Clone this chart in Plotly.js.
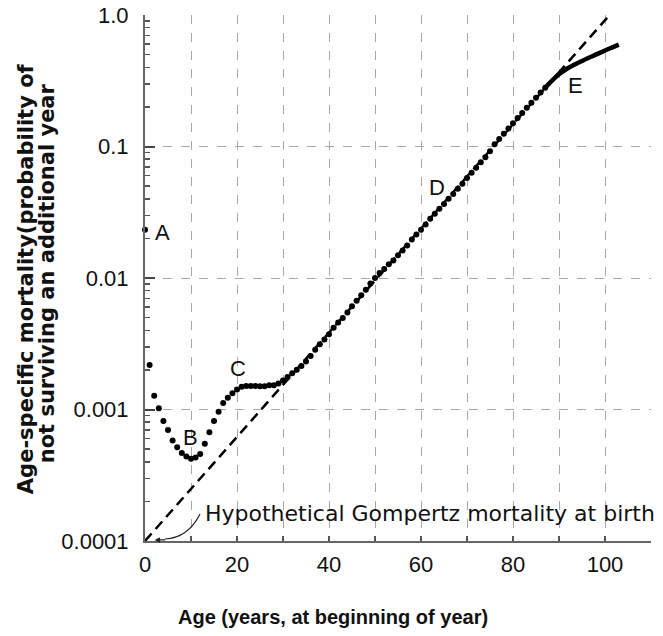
<!DOCTYPE html>
<html>
<head>
<meta charset="utf-8">
<script src="https://cdn.plot.ly/plotly-3.0.1.min.js"></script>
<style>html,body{margin:0;padding:0;background:#fff;}#chart{width:663px;height:636px;}</style>
</head>
<body>
<div id="chart"></div>
<script>
// Age (years, at beginning of year)
const ages = [0,1,2,3,4,5,6,7,8,9,10,11,12,13,14,15,16,17,18,19,20,21,22,23,24,25,26,27,28,29,30,31,32,33,34,35,36,37,38,39,40,41,42,43,44,45,46,47,48,49,50,51,52,53,54,55,56,57,58,59,60,61,62,63,64,65,66,67,68,69,70,71,72,73,74,75,76,77,78,79,80,81,82,83,84,85,86,87,88,89,90,91,92,93,94,95,96,97,98,99,100,101,102,103];
// Age-specific mortality (probability of not surviving an additional year)
const mortality = [0.0233,0.00218,0.00127,0.00102,0.000818,0.000697,0.000582,0.000516,0.000467,0.00044,0.000423,0.000431,0.000458,0.000548,0.00067,0.000818,0.00096,0.00112,0.00123,0.00133,0.00142,0.00149,0.00151,0.00151,0.00151,0.0015,0.0015,0.00153,0.00153,0.00158,0.00166,0.00177,0.00189,0.00201,0.00214,0.00232,0.00255,0.00285,0.00314,0.0034,0.00374,0.00418,0.00459,0.00497,0.00547,0.00611,0.00672,0.0074,0.00813,0.0091,0.0100,0.0109,0.0117,0.0127,0.0136,0.0149,0.0162,0.0177,0.0196,0.0214,0.0233,0.0255,0.0282,0.0308,0.0336,0.0366,0.040,0.0436,0.0478,0.0522,0.0575,0.0632,0.0690,0.0760,0.0830,0.0920,0.104,0.114,0.125,0.137,0.150,0.165,0.180,0.197,0.215,0.235,0.257,0.280,0.305,0.330,0.355,0.375,0.395,0.413,0.430,0.447,0.465,0.482,0.500,0.518,0.537,0.556,0.575,0.595];
// Late-life segment (E) drawn as a solid line from this age on
const solidFromAge = 87;
// Hypothetical Gompertz mortality line
const gompertzAges = [0, 101];
const gompertzRates = [0.0001, 1.0];
// Axis ticks
const yTickVals = [0.0001, 0.001, 0.01, 0.1, 1];
const yTickText = ['0.0001', '0.001', '0.01', '0.1', '1.0'];
const xTickVals = [0, 20, 40, 60, 80, 100];
const xMinorVals = [10, 30, 50, 70, 90, 110];
// Labels
const pointLabels = ['A', 'B', 'C', 'D', 'E'];
const gompertzLabel = 'Hypothetical Gompertz mortality at birth';
const xTitle = 'Age (years, at beginning of year)';
const yTitleLines = ['Age-specific mortality(probability of', 'not surviving an additional year'];

const yMinor = [];
for (let e = -4; e < 0; e++) for (let d = 2; d <= 9; d++) yMinor.push(d * Math.pow(10, e));

const dotX = [], dotY = [], lineX = [], lineY = [];
ages.forEach((a, i) => {
  if (a <= solidFromAge) { dotX.push(a); dotY.push(mortality[i]); }
  if (a >= solidFromAge) { lineX.push(a); lineY.push(mortality[i]); }
});

const FONT = 'Liberation Sans, Arial, Helvetica, sans-serif';
const GRID = '#a8a8a8';
const traces = [
  {x: gompertzAges, y: gompertzRates, type: 'scatter', mode: 'lines',
   line: {color: '#000', width: 2.5, dash: '10px,6px'}, cliponaxis: false, hoverinfo: 'skip'},
  {x: dotX, y: dotY, type: 'scatter', mode: 'markers',
   marker: {color: '#000', size: 6}, cliponaxis: false},
  {x: lineX, y: lineY, type: 'scatter', mode: 'lines',
   line: {color: '#000', width: 4.5, shape: 'spline'}, cliponaxis: false}
];

const labelPos = [[3.9, -1.653], [9.8, -3.215], [20.2, -2.69], [63.5, -1.31], [93.5, -0.533]];
const annotations = pointLabels.map((t, i) => ({
  x: labelPos[i][0], y: labelPos[i][1], xref: 'x', yref: 'y', text: t, showarrow: false,
  xanchor: 'center', yanchor: 'middle', font: {family: FONT, size: 22, color: '#111'}
}));
annotations.push({
  x: 12.6, y: -3.794, xref: 'x', yref: 'y', text: gompertzLabel, showarrow: false,
  xanchor: 'left', yanchor: 'middle', font: {family: 'DejaVu Sans, sans-serif', size: 22, color: '#111'}
});
annotations.push({
  x: 2.1, y: -3.992, xref: 'x', yref: 'y', text: '', showarrow: true,
  ax: 12, ay: 0, arrowhead: 2, arrowsize: 0.9, arrowwidth: 1.2, arrowcolor: '#222'
});
annotations.push({
  x: 0.3715, y: -0.1445, xref: 'paper', yref: 'paper', text: xTitle, showarrow: false,
  xanchor: 'center', yanchor: 'middle', font: {family: FONT, size: 20, color: '#111', weight: 'bold'}
});
annotations.push({
  x: -0.235, y: 0.498, xref: 'paper', yref: 'paper', text: yTitleLines[0], showarrow: false,
  textangle: -90, xanchor: 'center', yanchor: 'middle', font: {family: 'DejaVu Sans, sans-serif', size: 21, color: '#111', weight: 'bold'}
});
annotations.push({
  x: -0.192, y: 0.5086, xref: 'paper', yref: 'paper', text: yTitleLines[1], showarrow: false,
  textangle: -90, xanchor: 'center', yanchor: 'middle', font: {family: 'DejaVu Sans, sans-serif', size: 21, color: '#111', weight: 'bold'}
});

const layout = {
  width: 663, height: 636,
  margin: {l: 145, r: 12, t: 15, b: 95},
  paper_bgcolor: '#fff', plot_bgcolor: '#fff',
  showlegend: false,
  font: {family: FONT, color: '#111'},
  xaxis: {
    range: [0, 110], tickmode: 'array', tickvals: xTickVals,
    ticks: 'inside', ticklen: 5, tickwidth: 1.5, tickcolor: '#555',
    showline: true, linecolor: '#666', linewidth: 2,
    showgrid: true, gridcolor: GRID, gridwidth: 1, griddash: 'dash',
    zeroline: false, ticklabelstandoff: 3,
    tickfont: {family: FONT, size: 22, color: '#111'},
    minor: {tickmode: 'array', tickvals: xMinorVals, ticks: 'inside', ticklen: 5, tickwidth: 1.5, tickcolor: '#555',
            showgrid: true, gridcolor: GRID, gridwidth: 1, griddash: 'dash'}
  },
  yaxis: {
    type: 'log', range: [-4, 0], tickmode: 'array', tickvals: yTickVals, ticktext: yTickText,
    ticks: 'inside', ticklen: 10, tickwidth: 2, tickcolor: '#444',
    showline: true, linecolor: '#666', linewidth: 2,
    showgrid: true, gridcolor: GRID, gridwidth: 1, griddash: 'dash',
    zeroline: false, ticklabelstandoff: 10,
    tickfont: {family: FONT, size: 22, color: '#111'},
    minor: {tickmode: 'array', tickvals: yMinor, ticks: 'inside', ticklen: 5, tickwidth: 1.5, tickcolor: '#555', showgrid: false}
  },
  shapes: [{
    type: 'path', xref: 'paper', yref: 'paper',
    path: 'M 0.1087 0.0513 Q 0.085 0.0057 0.0395 0.0038',
    line: {color: '#222', width: 1.2}
  }],
  annotations: annotations
};

Plotly.newPlot('chart', traces, layout, {displayModeBar: false, staticPlot: true});
</script>
</body>
</html>
